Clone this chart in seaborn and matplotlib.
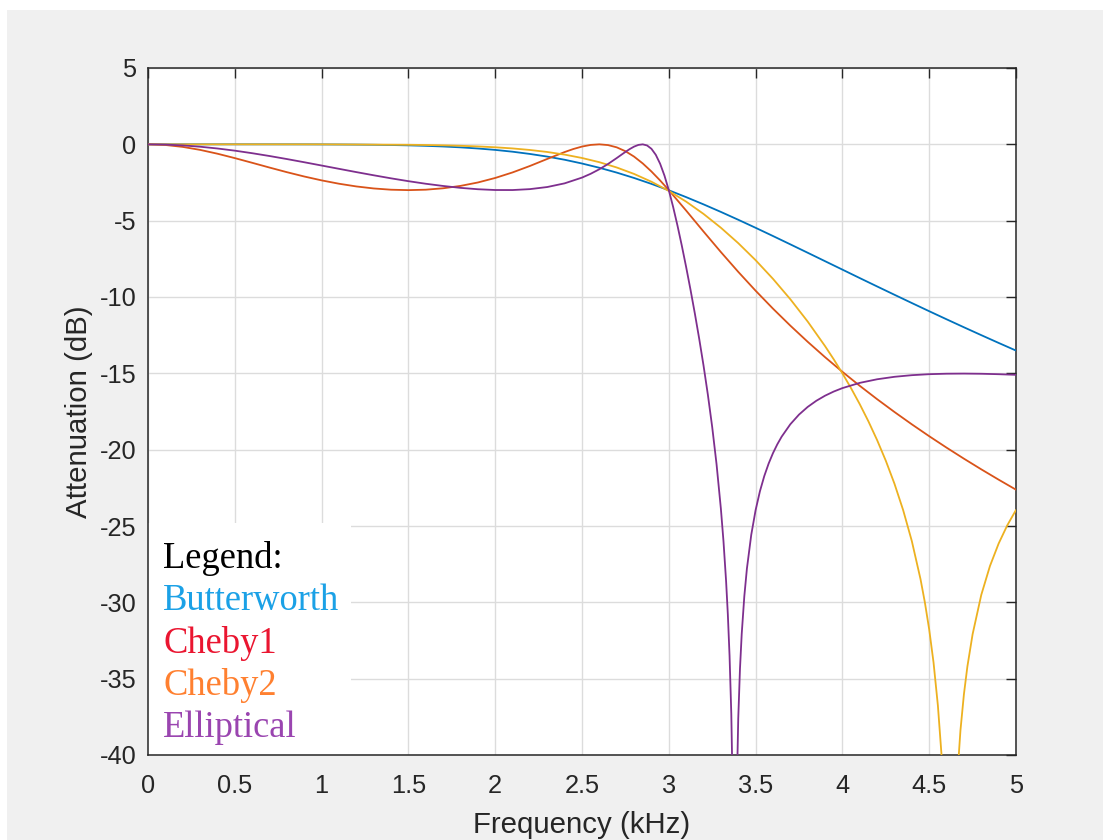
import numpy as np
import pandas as pd
import matplotlib
matplotlib.use("Agg")
import matplotlib.pyplot as plt
import seaborn as sns
from matplotlib.patches import Rectangle

# ---------------- data ----------------
butter_f = [0.0, 0.1, 0.2, 0.3, 0.4, 0.5, 0.6, 0.7, 0.8, 0.9, 1.0, 1.1, 1.2, 1.3, 1.4,
            1.5, 1.6, 1.7, 1.8, 1.9, 2.0, 2.1, 2.2, 2.3, 2.4, 2.5, 2.6, 2.7, 2.8, 2.9,
            3.0, 3.1, 3.2, 3.3, 3.4, 3.5, 3.6, 3.7, 3.8, 3.9, 4.0, 4.1, 4.2, 4.3, 4.4,
            4.5, 4.6, 4.7, 4.8, 4.9, 5.0]
butter_db = [0.0, 0.0, 0.0, 0.0, 0.0, 0.0, -0.0002, -0.0007, -0.0016, -0.003, -0.006,
             -0.011, -0.018, -0.029, -0.045, -0.067, -0.099, -0.141, -0.198, -0.272,
             -0.365, -0.483, -0.630, -0.803, -1.010, -1.256, -1.535, -1.851, -2.204,
             -2.591, -3.010, -3.458, -3.932, -4.427, -4.940, -5.467, -6.005, -6.551,
             -7.101, -7.654, -8.206, -8.760, -9.309, -9.854, -10.395, -10.931, -11.460,
             -11.983, -12.499, -13.008, -13.509]

cheby1_f = [0.0, 0.1, 0.2, 0.3, 0.4, 0.5, 0.6, 0.7, 0.8, 0.9, 1.0, 1.1, 1.2, 1.3, 1.4,
            1.5, 1.6, 1.7, 1.8, 1.9, 2.0, 2.1, 2.2, 2.3, 2.4, 2.45, 2.5, 2.55, 2.6, 2.65,
            2.7, 2.75, 2.8, 2.85, 2.9, 2.95, 3.0, 3.1, 3.2, 3.3, 3.4, 3.5, 3.6, 3.7, 3.8,
            3.9, 4.0, 4.1, 4.2, 4.3, 4.4, 4.5, 4.6, 4.7, 4.8, 4.9, 5.0]
cheby1_db = [0.0, -0.043, -0.168, -0.363, -0.614, -0.902, -1.209, -1.521, -1.824, -2.107,
             -2.361, -2.580, -2.758, -2.890, -2.972, -3.000, -2.971, -2.879, -2.723,
             -2.499, -2.203, -1.840, -1.417, -0.956, -0.505, -0.307, -0.146, -0.038,
             0.0, -0.049, -0.197, -0.450, -0.804, -1.252, -1.779, -2.367, -3.000,
             -4.340, -5.711, -7.056, -8.352, -9.588, -10.762, -11.875, -12.934, -13.941,
             -14.900, -15.817, -16.693, -17.533, -18.341, -19.118, -19.867, -20.590,
             -21.289, -21.965, -22.622]

cheby2_f = [0.0, 0.5, 1.0, 1.5, 1.6, 1.7, 1.8, 1.9, 2.0, 2.1, 2.2, 2.3, 2.4, 2.5, 2.6,
            2.7, 2.8, 2.9, 3.0, 3.1, 3.2, 3.3, 3.4, 3.5, 3.6, 3.7, 3.8, 3.9, 3.95, 4.0,
            4.05, 4.1, 4.15, 4.2, 4.25, 4.3, 4.35, 4.4, 4.45, 4.475, 4.5, 4.525, 4.55,
            4.57, 4.58, 4.59, 4.6, 4.62, 4.64, 4.65, 4.66, 4.68, 4.7, 4.72, 4.75, 4.8,
            4.85, 4.9, 4.95, 5.0]
cheby2_db = [0.0, 0.0, -0.002, -0.029, -0.044, -0.065, -0.095, -0.137, -0.193, -0.268,
             -0.369, -0.501, -0.673, -0.894, -1.170, -1.516, -1.939, -2.449, -3.052,
             -3.753, -4.557, -5.463, -6.472, -7.588, -8.809, -10.145, -11.607, -13.216,
             -14.081, -15.000, -15.977, -17.021, -18.148, -19.374, -20.724, -22.234,
             -23.961, -25.991, -28.482, -30.000, -31.777, -33.944, -36.756, -39.84,
             -41.88, -44.51, -48.24, -80.0, -47.41, -44.12, -41.74, -38.39, -36.02,
             -34.20, -32.09, -29.51, -27.62, -26.15, -24.95, -23.95]

ellip_f = [0.0, 0.1, 0.2, 0.3, 0.4, 0.5, 0.6, 0.7, 0.8, 0.9, 1.0, 1.1, 1.2, 1.3, 1.4,
           1.5, 1.6, 1.7, 1.8, 1.9, 2.0, 2.1, 2.2, 2.3, 2.4, 2.5, 2.55, 2.6, 2.65, 2.7,
           2.725, 2.75, 2.775, 2.8, 2.825, 2.85, 2.875, 2.9, 2.925, 2.95, 2.975, 3.0,
           3.025, 3.05, 3.075, 3.1, 3.125, 3.15, 3.175, 3.2, 3.225, 3.25, 3.275, 3.3,
           3.315, 3.33, 3.34, 3.35, 3.36, 3.37, 3.3795, 3.39, 3.40, 3.41, 3.42, 3.435,
           3.45, 3.475, 3.5, 3.525, 3.55, 3.575, 3.6, 3.625, 3.65, 3.7, 3.75, 3.8, 3.85,
           3.9, 3.95, 4.0, 4.1, 4.2, 4.3, 4.4, 4.5, 4.6, 4.7, 4.8, 4.9, 5.0]
ellip_db = [0.0, -0.018, -0.070, -0.156, -0.272, -0.414, -0.581, -0.765, -0.964, -1.173,
            -1.388, -1.604, -1.819, -2.027, -2.227, -2.413, -2.582, -2.727, -2.851,
            -2.941, -2.992, -2.994, -2.934, -2.796, -2.555, -2.179, -1.929, -1.632,
            -1.286, -0.899, -0.697, -0.497, -0.309, -0.149, -0.037, -0.001, -0.074,
            -0.293, -0.686, -1.271, -2.048, -3.000, -4.101, -5.322, -6.641, -8.043,
            -9.521, -11.078, -12.725, -14.486, -16.397, -18.517, -20.947, -23.866,
            -25.999, -28.608, -30.772, -33.507, -37.300, -43.742, -80.0, -43.247,
            -37.623, -34.355, -32.073, -29.602, -27.785, -25.572, -23.962, -22.721,
            -21.728, -20.913, -20.230, -19.650, -19.150, -18.336, -17.703, -17.201,
            -16.796, -16.465, -16.193, -15.968, -15.625, -15.389, -15.227, -15.121,
            -15.056, -15.024, -15.016, -15.028, -15.057, -15.098]

series_names = ["Butterworth", "Cheby1", "Cheby2", "Elliptical"]
line_colors = ["#0072BD", "#D95319", "#EDB120", "#7E2F8E"]
legend_colors = ["#1BA1E6", "#EA1530", "#FF8030", "#9A45B0"]

x_ticks = [0, 0.5, 1, 1.5, 2, 2.5, 3, 3.5, 4, 4.5, 5]
x_tick_labels = ["0", "0.5", "1", "1.5", "2", "2.5", "3", "3.5", "4", "4.5", "5"]
y_ticks = [-40, -35, -30, -25, -20, -15, -10, -5, 0, 5]
y_tick_labels = ["-40", "-35", "-30", "-25", "-20", "-15", "-10", "-5", "0", "5"]

# ---------------- style ----------------
sns.set_style("white")
plt.rcParams["font.family"] = ["Liberation Sans", "DejaVu Sans"]

W, H = 1103, 840
fig = plt.figure(figsize=(W / 100, H / 100), dpi=100)
fig.patch.set_facecolor("white")
fig.patches.append(Rectangle((7 / W, 0), 1 - 7 / W, 1 - 10 / H, transform=fig.transFigure,
                             facecolor="#f0f0f0", edgecolor="none", zorder=-10))

ax = fig.add_axes([148 / W, 1 - 755 / H, (1016 - 148) / W, (755 - 68) / H])
ax.set_facecolor("white")

frames = [
    pd.DataFrame({"f": butter_f, "db": butter_db}),
    pd.DataFrame({"f": cheby1_f, "db": cheby1_db}),
    pd.DataFrame({"f": cheby2_f, "db": cheby2_db}),
    pd.DataFrame({"f": ellip_f, "db": ellip_db}),
]
for df, c in zip(frames, line_colors):
    sns.lineplot(data=df, x="f", y="db", ax=ax, color=c, linewidth=1.3,
                 estimator=None, sort=False, legend=False, zorder=3)

ax.set_xlim(0, 5)
ax.set_ylim(-40, 5)
ax.set_xticks(x_ticks)
ax.set_xticklabels(x_tick_labels)
ax.set_yticks(y_ticks)
ax.set_yticklabels(y_tick_labels)

ax.set_axisbelow(True)
ax.grid(True, color="#dcdcdc", linewidth=1.0)
for s in ax.spines.values():
    s.set_color("#262626")
    s.set_linewidth(1.1)
ax.tick_params(axis="both", direction="in", length=7, width=1.0, color="#262626",
               labelcolor="#262626", labelsize=18.3, top=True, right=True)
ax.tick_params(axis="x", pad=13.5)
ax.tick_params(axis="y", pad=8.5)

ax.set_xlabel("Frequency (kHz)", fontsize=21.2, color="#262626", labelpad=9.5)
ax.set_ylabel("Attenuation (dB)", fontsize=21.2, color="#262626", labelpad=5)

# legend text box (white area covering grid)
ax.add_patch(Rectangle((0, 0), (351 - 148) / (1016 - 148), (755 - 523) / (755 - 68),
                       transform=ax.transAxes, facecolor="white", edgecolor="none",
                       zorder=1))
legend_lines = ["Legend:"] + series_names
legend_cols = ["black"] + legend_colors
baselines = [568, 610, 653, 695, 737]
for t, c, yp in zip(legend_lines, legend_cols, baselines):
    ax.text((163 - 148) / (1016 - 148), (755 - yp) / (755 - 68), t, color=c,
            transform=ax.transAxes, fontsize=26.3,
            family=["Liberation Serif", "DejaVu Serif"], va="baseline", ha="left",
            zorder=5)

fig.savefig("out.png", dpi=100, facecolor=fig.get_facecolor())
